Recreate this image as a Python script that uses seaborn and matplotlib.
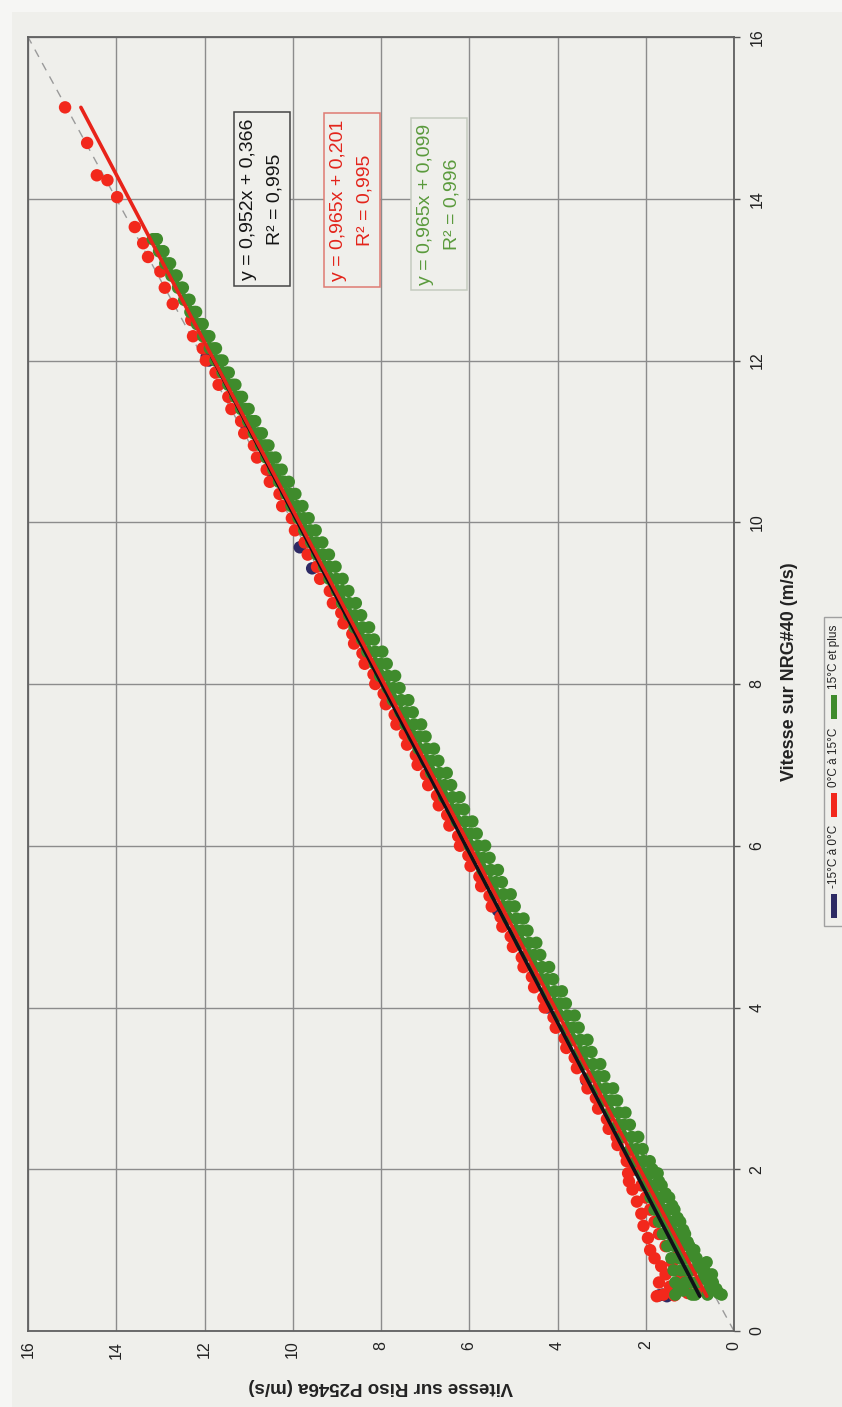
import matplotlib
matplotlib.use("Agg")
import matplotlib.pyplot as plt
from matplotlib.patches import Rectangle
import pandas as pd
import seaborn as sns

sns.set_theme(style="white")
plt.rcParams["font.family"] = ["Liberation Sans", "DejaVu Sans"]

# ---------------- data ----------------
classes = ["-15°C à 0°C", "0°C à 15°C", "15°C et plus"]
colors = ["#2d2a64", "#f2281c", "#3f8b2c"]
line_colors = ["#101018", "#e8231a", "#3f8b2c"]

# x = Vitesse sur NRG#40, y = Vitesse sur Riso P2546a
navy_nrg = [0.43, 0.45, 0.44, 1.20, 2.00, 3.10, 4.00, 5.20, 6.30, 7.40, 8.60, 9.43, 9.69, 10.60, 11.20, 12.00, 12.05]
navy_riso = [1.52, 1.62, 1.70, 1.45, 2.25, 3.35, 4.22, 5.35, 6.35, 7.40, 8.55, 9.56, 9.84, 10.45, 11.05, 11.90, 11.95]

red_nrg = [0.43, 0.45, 0.44, 0.47, 0.50, 0.55, 0.60, 0.65, 0.70, 0.75, 0.80, 0.85, 0.90, 0.95, 1.00, 1.05,
           1.10, 1.15, 1.20, 1.25, 1.30, 1.35, 1.40, 1.45, 1.50, 1.55, 1.60, 1.65, 1.70, 1.75, 1.80, 1.85,
           1.90, 1.95, 2.00, 2.10, 2.20, 2.30, 2.40, 2.50, 2.62, 2.75, 2.88, 3.00, 3.12, 3.25, 3.38, 3.50,
           3.62, 3.75, 3.88, 4.00, 4.12, 4.25, 4.38, 4.50, 4.62, 4.75, 4.88, 5.00, 5.12, 5.25, 5.38, 5.50,
           5.62, 5.75, 5.88, 6.00, 6.12, 6.25, 6.38, 6.50, 6.62, 6.75, 6.88, 7.00, 7.12, 7.25, 7.38, 7.50,
           7.62, 7.75, 7.88, 8.00, 8.12, 8.25, 8.38, 8.50, 8.62, 8.75, 8.88, 9.00, 9.15, 9.30, 9.45, 9.60,
           9.75, 9.90, 10.05, 10.20, 10.35, 10.50, 10.65, 10.80, 10.95, 11.10, 11.25, 11.40, 11.55, 11.70,
           11.85, 12.00, 12.15, 12.30, 12.50, 12.70, 12.90, 13.10, 13.28, 13.45, 13.65, 14.02, 14.23, 14.29,
           14.69, 15.13]
red_riso = [1.75, 1.60, 1.35, 1.05, 0.80, 1.45, 1.70, 1.20, 1.55, 0.95, 1.65, 1.40, 1.80, 1.25, 1.90, 1.55,
            1.35, 1.95, 1.70, 1.50, 2.05, 1.80, 1.60, 2.10, 1.90, 1.75, 2.20, 2.00, 1.85, 2.30, 2.10, 2.38,
            2.05, 2.40, 2.25, 2.43, 2.46, 2.64, 2.66, 2.84, 2.88, 3.08, 3.13, 3.32, 3.36, 3.56, 3.61, 3.80,
            3.84, 4.04, 4.09, 4.29, 4.32, 4.53, 4.58, 4.77, 4.81, 5.01, 5.06, 5.25, 5.29, 5.49, 5.54, 5.73,
            5.77, 5.97, 6.02, 6.21, 6.25, 6.45, 6.50, 6.69, 6.73, 6.93, 6.98, 7.17, 7.21, 7.41, 7.46, 7.65,
            7.69, 7.89, 7.94, 8.13, 8.17, 8.37, 8.42, 8.61, 8.65, 8.85, 8.90, 9.09, 9.16, 9.38, 9.45, 9.66,
            9.73, 9.95, 10.02, 10.24, 10.30, 10.52, 10.59, 10.81, 10.88, 11.10, 11.17, 11.39, 11.46, 11.68,
            11.75, 11.97, 12.04, 12.26, 12.30, 12.72, 12.90, 13.00, 13.28, 13.39, 13.58, 13.98, 14.20, 14.44,
            14.66, 15.16]

green_nrg = [0.45, 0.60, 0.75, 0.90, 1.05, 1.20, 1.35, 1.50, 1.65, 1.80, 1.95, 2.10, 2.25, 2.40, 2.55, 2.70,
             2.85, 3.00, 3.15, 3.30, 3.45, 3.60, 3.75, 3.90, 4.05, 4.20, 4.35, 4.50, 4.65, 4.80, 4.95, 5.10,
             5.25, 5.40, 5.55, 5.70, 5.85, 6.00, 6.15, 6.30, 6.45, 6.60, 6.75, 6.90, 7.05, 7.20, 7.35, 7.50,
             7.65, 7.80, 7.95, 8.10, 8.25, 8.40, 8.55, 8.70, 8.85, 9.00, 9.15, 9.30, 9.45, 9.60, 9.75, 9.90,
             10.05, 10.20, 10.35, 10.50, 10.65, 10.80, 10.95, 11.10, 11.25, 11.40, 11.55, 11.70, 11.85, 12.00,
             12.15, 12.30, 12.45, 12.60, 12.75, 12.90, 13.05, 13.20, 13.35, 13.50]
green_riso_in = [1.33, 1.33, 1.37, 1.42, 1.51, 1.61, 1.70, 1.80, 1.89, 1.99, 2.08, 2.21, 2.34, 2.52, 2.63, 2.81,
                 2.92, 3.09, 3.21, 3.38, 3.50, 3.67, 3.79, 3.96, 4.08, 4.25, 4.37, 4.54, 4.66, 4.83, 4.95, 5.12,
                 5.24, 5.41, 5.53, 5.70, 5.82, 5.99, 6.11, 6.28, 6.40, 6.57, 6.69, 6.86, 6.98, 7.15, 7.27, 7.44,
                 7.56, 7.73, 7.85, 8.02, 8.14, 8.31, 8.43, 8.60, 8.72, 8.88, 9.00, 9.17, 9.29, 9.45, 9.58, 9.74,
                 9.87, 10.03, 10.15, 10.31, 10.44, 10.60, 10.72, 10.88, 11.01, 11.17, 11.30, 11.46, 11.59, 11.75,
                 11.88, 12.03, 12.17, 12.32, 12.46, 12.60, 12.75, 12.89, 13.03, 13.17]
green_riso_mid = [0.88, 0.98, 1.07, 1.17, 1.26, 1.38, 1.48, 1.60, 1.69, 1.81, 1.92, 2.05, 2.21, 2.32, 2.50, 2.61,
                  2.79, 2.90, 3.08, 3.19, 3.37, 3.48, 3.66, 3.77, 3.95, 4.06, 4.24, 4.35, 4.53, 4.64, 4.82, 4.93,
                  5.11, 5.22, 5.40, 5.51, 5.69, 5.80, 5.98, 6.09, 6.27, 6.38, 6.56, 6.67, 6.85, 6.96, 7.14, 7.25,
                  7.43, 7.54, 7.72, 7.84, 8.01, 8.13, 8.30, 8.42, 8.59, 8.72, 8.88, 9.01, 9.17, 9.31, 9.46, 9.60,
                  9.75, 9.90, 10.05, 10.19, 10.34, 10.49, 10.63, 10.78, 10.92, 11.07, 11.21, 11.36, 11.50, 11.65,
                  11.79, 11.94, 12.08, 12.23, 12.37, 12.52, 12.66, 12.81, 12.95, 13.10]
green_riso_out = [0.28, 0.48, 0.67, 0.85, 1.01, 1.11, 1.22, 1.35, 1.47, 1.64, 1.73, 1.91, 2.07, 2.17, 2.36, 2.46,
                  2.65, 2.74, 2.94, 3.03, 3.23, 3.32, 3.52, 3.61, 3.81, 3.90, 4.10, 4.19, 4.39, 4.48, 4.68, 4.77,
                  4.97, 5.06, 5.26, 5.35, 5.54, 5.64, 5.83, 5.93, 6.12, 6.22, 6.41, 6.51, 6.70, 6.80, 6.99, 7.09,
                  7.28, 7.38, 7.58, 7.68, 7.87, 7.97, 8.16, 8.27, 8.45, 8.57, 8.74, 8.87, 9.03, 9.18, 9.33, 9.48,
                  9.64, 9.78, 9.94, 10.09, 10.25, 10.39, 10.55, 10.70, 10.85, 11.00, 11.15, 11.30, 11.45, 11.59,
                  11.74, 11.89, 12.04, 12.19, 12.34, 12.49, 12.63, 12.78, 12.93, 13.08]
green_low_nrg = [0.45, 0.45, 0.50, 0.52, 0.52, 0.60, 0.60, 0.75, 0.75, 0.90, 0.90, 1.05, 1.05, 1.20, 1.20,
                 1.35, 1.35, 1.50, 1.50, 1.65, 1.65, 1.80, 1.95, 2.10, 0.47, 0.55, 0.65, 0.70, 0.80, 0.85,
                 1.00, 1.10, 1.25, 1.40, 1.55, 1.70, 1.85, 2.00]
green_low_riso = [0.60, 0.95, 1.15, 0.40, 1.25, 0.85, 1.10, 1.00, 1.20, 1.10, 1.25, 1.20, 1.35, 1.30, 1.45,
                  1.40, 1.55, 1.50, 1.65, 1.62, 1.76, 1.78, 1.88, 2.05, 0.35, 0.55, 0.70, 0.50, 0.80, 0.62,
                  0.90, 1.05, 1.15, 1.28, 1.40, 1.55, 1.70, 1.85]

# trendlines: Riso = slope * NRG + intercept
slopes = [0.952, 0.965, 0.965]
intercepts = [0.366, 0.201, 0.099]
fit_ranges = [(0.43, 12.05), (0.43, 15.13), (0.43, 13.50)]
equations = ["y = 0,952x + 0,366\nR² = 0,995",
             "y = 0,965x + 0,201\nR² = 0,995",
             "y = 0,965x + 0,099\nR² = 0,996"]

ticks = [0, 2, 4, 6, 8, 10, 12, 14, 16]

# ---------------- figure ----------------
W, H = 842, 1407
fig = plt.figure(figsize=(W / 100, H / 100), dpi=100)
BG_OUT = "#f6f6f4"
BG = "#efefeb"
fig.patch.set_facecolor(BG_OUT)


def fx(px):
    return px / W


def fy(py):
    return 1 - py / H


fig.patches.append(Rectangle((fx(12), 0), 1, fy(12), transform=fig.transFigure,
                             facecolor=BG, edgecolor="none", zorder=-5))

ax = fig.add_axes([fx(28), fy(1331), (734 - 28) / W, (1331 - 37) / H])
ax.set_zorder(1)
ax.set_facecolor(BG)

# rotated chart: horizontal = Riso (inverted), vertical = NRG
ax.set_xlim(16, 0)
ax.set_ylim(0, 16)

# identity line
sns.lineplot(x=[0, 16], y=[0, 16], ax=ax, color="#9a9a9a", lw=1.0,
             linestyle=(0, (6, 5)), zorder=2)

df = pd.concat([
    pd.DataFrame({"nrg": navy_nrg, "riso": navy_riso, "classe": classes[0]}),
    pd.DataFrame({"nrg": red_nrg, "riso": red_riso, "classe": classes[1]}),
    pd.DataFrame({"nrg": green_nrg + green_nrg + green_nrg + green_low_nrg,
                  "riso": green_riso_out + green_riso_mid + green_riso_in + green_low_riso,
                  "classe": classes[2]}),
], ignore_index=True)

sns.scatterplot(data=df, x="riso", y="nrg", hue="classe", hue_order=classes,
                palette=colors, s=80, marker="o", edgecolor="none", linewidth=0,
                legend=False, ax=ax, zorder=3)

for a, b, (lo, hi), c in zip(slopes, intercepts, fit_ranges, line_colors):
    xs = [lo, hi]
    sns.lineplot(x=[a * v + b for v in xs], y=xs, ax=ax, color=c, lw=2.6,
                 zorder=4, sort=False)

ax.set_xticks(ticks)
ax.set_yticks(ticks)
ax.set_xticklabels([str(t) for t in ticks], rotation=90, fontsize=11.5, color="#222")
ax.set_yticklabels([str(t) for t in ticks], rotation=90, fontsize=11.5, color="#222",
                   va="center")
ax.yaxis.tick_right()
ax.tick_params(axis="x", direction="out", length=4, width=1, pad=3, color="#555")
ax.tick_params(axis="y", direction="out", length=4, width=1, pad=7, color="#555")
ax.grid(True, color="#8c8c8c", lw=1.0)
ax.set_axisbelow(True)
for sp in ax.spines.values():
    sp.set_color("#606060")
    sp.set_linewidth(1.3)
ax.set_xlabel("")
ax.set_ylabel("")

fig.text(fx(381), fy(1386), "Vitesse sur Riso P2546a (m/s)", rotation=180,
         ha="center", va="center", fontsize=13.5, fontweight="bold", color="#222")
fig.text(fx(790), fy(672), "Vitesse sur NRG#40 (m/s)", rotation=90,
         ha="center", va="center", fontsize=13, fontweight="bold", color="#222")

# equation boxes
box_pos = [(262, 199), (352, 200), (439, 204)]
text_cols = ["#151515", "#e3241b", "#5a9a3c"]
edge_cols = ["#454545", "#df7a72", "#c4cbbf"]
for (px, py), s, tc, ec in zip(box_pos, equations, text_cols, edge_cols):
    fig.text(fx(px), fy(py), s, rotation=90, ha="center", va="center",
             multialignment="center", fontsize=14, color=tc, linespacing=1.75,
             zorder=5,
             bbox=dict(boxstyle="square,pad=0.3", facecolor=BG, edgecolor=ec, lw=1.1))

# rotated legend (bottom of original chart)
fig.canvas.draw()
renderer = fig.canvas.get_renderer()
cur = 918
leg_x = 834
start = cur + 8
for lab, col in zip(classes, colors):
    fig.patches.append(Rectangle((fx(leg_x - 3), fy(cur)), 6 / W, 24 / H,
                                 transform=fig.transFigure, facecolor=col,
                                 edgecolor="none", zorder=3))
    cur -= 30
    t = fig.text(fx(leg_x), fy(cur), lab, rotation=90, ha="center", va="bottom",
                 fontsize=8.5, color="#222", zorder=4)
    bb = t.get_window_extent(renderer)
    cur -= bb.height + 8
fig.patches.append(Rectangle((fx(824), fy(start)), 40 / W, (start - cur) / H,
                             transform=fig.transFigure, facecolor=BG,
                             edgecolor="#a0a0a0", lw=1.0, zorder=2))

fig.savefig("out.png", dpi=100, facecolor=fig.get_facecolor())
